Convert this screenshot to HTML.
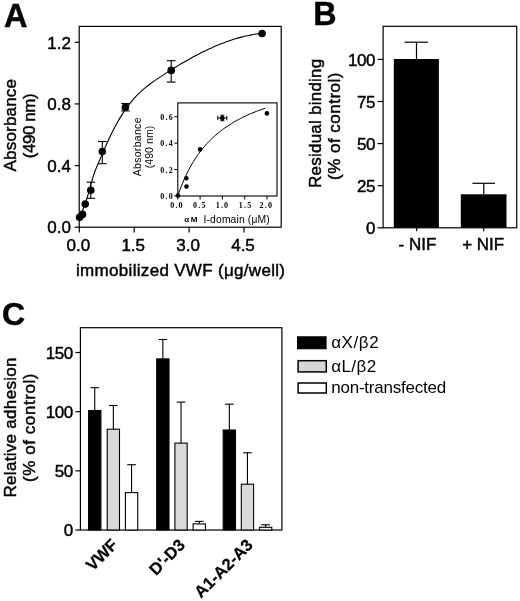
<!DOCTYPE html>
<html><head><meta charset="utf-8"><title>Figure</title>
<style>
html,body{margin:0;padding:0;background:#fff;}
svg{display:block;font-family:"Liberation Sans", Arial, sans-serif;fill:#000;}
text{stroke:#000;stroke-width:0.45px;}
text.thin{stroke-width:0;}
</style></head><body>
<svg width="520" height="601" viewBox="0 0 520 601" style='font-family:"Liberation Sans", Arial, sans-serif'>
<rect x="0" y="0" width="520" height="601" fill="#fff"/>
<text x="4.1" y="26.8" font-size="32.5" text-anchor="start" font-weight="bold" >A</text>
<text x="313.2" y="25.3" font-size="32.3" text-anchor="start" font-weight="bold" >B</text>
<text x="2.0" y="325.4" font-size="32" text-anchor="start" font-weight="bold" >C</text>
<rect x="79.2" y="26.4" width="202.0" height="200.79999999999998" fill="none" stroke="#000" stroke-width="1.2"/>
<line x1="74.7" y1="227.2" x2="79.2" y2="227.2" stroke="#000" stroke-width="1.2" />
<text x="70.9" y="233.4" font-size="17" text-anchor="end" >0.0</text>
<line x1="74.7" y1="165.56" x2="79.2" y2="165.56" stroke="#000" stroke-width="1.2" />
<text x="70.9" y="171.8" font-size="17" text-anchor="end" >0.4</text>
<line x1="74.7" y1="103.91999999999999" x2="79.2" y2="103.91999999999999" stroke="#000" stroke-width="1.2" />
<text x="70.9" y="110.1" font-size="17" text-anchor="end" >0.8</text>
<line x1="74.7" y1="42.28" x2="79.2" y2="42.28" stroke="#000" stroke-width="1.2" />
<text x="70.9" y="48.5" font-size="17" text-anchor="end" >1.2</text>
<line x1="79.3" y1="227.2" x2="79.3" y2="232.5" stroke="#000" stroke-width="1.2" />
<text x="78.3" y="250.5" font-size="17" text-anchor="middle" >0.0</text>
<line x1="134.2" y1="227.2" x2="134.2" y2="232.5" stroke="#000" stroke-width="1.2" />
<text x="133.2" y="250.5" font-size="17" text-anchor="middle" >1.5</text>
<line x1="189.10000000000002" y1="227.2" x2="189.10000000000002" y2="232.5" stroke="#000" stroke-width="1.2" />
<text x="188.1" y="250.5" font-size="17" text-anchor="middle" >3.0</text>
<line x1="244.0" y1="227.2" x2="244.0" y2="232.5" stroke="#000" stroke-width="1.2" />
<text x="243.0" y="250.5" font-size="17" text-anchor="middle" >4.5</text>
<text x="76" y="276.3" font-size="17" text-anchor="start" textLength="209" lengthAdjust="spacing" >immobilized VWF (μg/well)</text>
<text x="15.9" y="171.4" font-size="17" text-anchor="start" transform="rotate(-90 15.9 171.4)" textLength="92.4" lengthAdjust="spacing" >Absorbance</text>
<text x="35.5" y="158.2" font-size="17" text-anchor="start" transform="rotate(-90 35.5 158.2)" textLength="64.8" lengthAdjust="spacing" >(490 nm)</text>
<polyline fill="none" stroke="#000" stroke-width="1.1" points="79.4,217.4 82.4,210.8 85.4,203.0 88.4,193.7 91.4,182.5 94.4,172.7 97.4,165.3 100.4,158.4 103.4,151.4 106.4,144.5 109.4,138.0 112.4,131.8 115.4,126.0 118.4,120.6 121.4,115.6 124.4,111.0 127.4,106.7 130.4,102.8 133.4,99.2 136.4,95.9 139.4,92.9 142.4,90.1 145.4,87.6 148.4,85.2 151.4,83.0 154.4,80.9 157.4,78.9 160.4,76.9 163.4,74.9 166.4,72.9 169.4,71.0 172.4,69.1 175.4,67.3 178.4,65.4 181.4,63.6 184.4,61.9 187.4,60.2 190.4,58.5 193.4,56.8 196.4,55.2 199.4,53.7 202.4,52.1 205.4,50.7 208.4,49.2 211.4,47.9 214.4,46.5 217.4,45.3 220.4,44.0 223.4,42.9 226.4,41.7 229.4,40.7 232.4,39.7 235.4,38.8 238.4,37.9 241.4,37.1 244.4,36.3 247.4,35.7 250.4,35.1 253.4,34.5 256.4,34.0 259.4,33.6 262.0,33.4"/>
<circle cx="79.6" cy="217.3" r="3.8" fill="#000"/>
<circle cx="82.5" cy="214.4" r="3.8" fill="#000"/>
<circle cx="85.2" cy="204.1" r="3.8" fill="#000"/>
<line x1="90.8" y1="182.2" x2="90.8" y2="198.3" stroke="#000" stroke-width="1.1" />
<line x1="86.5" y1="182.2" x2="95.1" y2="182.2" stroke="#000" stroke-width="1.1" />
<line x1="86.5" y1="198.3" x2="95.1" y2="198.3" stroke="#000" stroke-width="1.1" />
<circle cx="90.8" cy="190.2" r="3.8" fill="#000"/>
<line x1="102.3" y1="141.5" x2="102.3" y2="163.7" stroke="#000" stroke-width="1.1" />
<line x1="98.0" y1="141.5" x2="106.6" y2="141.5" stroke="#000" stroke-width="1.1" />
<line x1="98.0" y1="163.7" x2="106.6" y2="163.7" stroke="#000" stroke-width="1.1" />
<circle cx="102.3" cy="151.5" r="3.8" fill="#000"/>
<line x1="125.4" y1="103.5" x2="125.4" y2="110.9" stroke="#000" stroke-width="1.1" />
<line x1="121.10000000000001" y1="103.5" x2="129.70000000000002" y2="103.5" stroke="#000" stroke-width="1.1" />
<line x1="121.10000000000001" y1="110.9" x2="129.70000000000002" y2="110.9" stroke="#000" stroke-width="1.1" />
<circle cx="125.4" cy="107.2" r="3.8" fill="#000"/>
<line x1="171.2" y1="60.7" x2="171.2" y2="82.1" stroke="#000" stroke-width="1.1" />
<line x1="166.89999999999998" y1="60.7" x2="175.5" y2="60.7" stroke="#000" stroke-width="1.1" />
<line x1="166.89999999999998" y1="82.1" x2="175.5" y2="82.1" stroke="#000" stroke-width="1.1" />
<circle cx="171.2" cy="70.4" r="3.8" fill="#000"/>
<circle cx="262.1" cy="33.5" r="3.8" fill="#000"/>
<rect x="177.8" y="102.9" width="99.19999999999999" height="93.1" fill="none" stroke="#000" stroke-width="1.1"/>
<line x1="174.3" y1="195.9" x2="177.8" y2="195.9" stroke="#000" stroke-width="1" />
<text x="160.2" y="198.9" font-size="8" text-anchor="start" font-weight="bold" textLength="12.6" lengthAdjust="spacing" font-family='"Liberation Serif", "Times New Roman", serif' class="thin">0.0</text>
<line x1="174.3" y1="169.5" x2="177.8" y2="169.5" stroke="#000" stroke-width="1" />
<text x="160.2" y="172.5" font-size="8" text-anchor="start" font-weight="bold" textLength="12.6" lengthAdjust="spacing" font-family='"Liberation Serif", "Times New Roman", serif' class="thin">0.2</text>
<line x1="174.3" y1="143.1" x2="177.8" y2="143.1" stroke="#000" stroke-width="1" />
<text x="160.2" y="146.1" font-size="8" text-anchor="start" font-weight="bold" textLength="12.6" lengthAdjust="spacing" font-family='"Liberation Serif", "Times New Roman", serif' class="thin">0.4</text>
<line x1="174.3" y1="116.7" x2="177.8" y2="116.7" stroke="#000" stroke-width="1" />
<text x="160.2" y="119.7" font-size="8" text-anchor="start" font-weight="bold" textLength="12.6" lengthAdjust="spacing" font-family='"Liberation Serif", "Times New Roman", serif' class="thin">0.6</text>
<line x1="177.8" y1="196.0" x2="177.8" y2="199.5" stroke="#000" stroke-width="1" />
<text x="170.2" y="208.0" font-size="8" text-anchor="start" font-weight="bold" textLength="12.4" lengthAdjust="spacing" font-family='"Liberation Serif", "Times New Roman", serif' class="thin">0.0</text>
<line x1="200.10000000000002" y1="196.0" x2="200.10000000000002" y2="199.5" stroke="#000" stroke-width="1" />
<text x="193.0" y="208.0" font-size="8" text-anchor="start" font-weight="bold" textLength="12.4" lengthAdjust="spacing" font-family='"Liberation Serif", "Times New Roman", serif' class="thin">0.5</text>
<line x1="222.4" y1="196.0" x2="222.4" y2="199.5" stroke="#000" stroke-width="1" />
<text x="215.7" y="208.0" font-size="8" text-anchor="start" font-weight="bold" textLength="12.4" lengthAdjust="spacing" font-family='"Liberation Serif", "Times New Roman", serif' class="thin">1.0</text>
<line x1="244.70000000000002" y1="196.0" x2="244.70000000000002" y2="199.5" stroke="#000" stroke-width="1" />
<text x="238.8" y="208.0" font-size="8" text-anchor="start" font-weight="bold" textLength="12.4" lengthAdjust="spacing" font-family='"Liberation Serif", "Times New Roman", serif' class="thin">1.5</text>
<line x1="267.0" y1="196.0" x2="267.0" y2="199.5" stroke="#000" stroke-width="1" />
<text x="259.6" y="208.0" font-size="8" text-anchor="start" font-weight="bold" textLength="12.4" lengthAdjust="spacing" font-family='"Liberation Serif", "Times New Roman", serif' class="thin">2.0</text>
<polyline fill="none" stroke="#000" stroke-width="1" points="177.8,195.9 180.0,189.6 182.3,183.8 184.5,178.5 186.8,173.7 189.0,169.3 191.2,165.2 193.5,161.4 195.7,157.9 198.0,154.6 200.2,151.6 202.5,148.7 204.7,146.1 206.9,143.6 209.2,141.2 211.4,139.0 213.7,136.9 215.9,134.9 218.1,133.0 220.4,131.2 222.6,129.5 224.9,127.9 227.1,126.3 229.4,124.9 231.6,123.5 233.8,122.1 236.1,120.9 238.3,119.6 240.6,118.5 242.8,117.3 245.0,116.3 247.3,115.2 249.5,114.2 251.8,113.3 254.0,112.3 256.3,111.4 258.5,110.6 260.7,109.8 263.0,109.0 265.2,108.2"/>
<circle cx="177.9" cy="195.6" r="2.3" fill="#000"/>
<circle cx="186.3" cy="178.3" r="2.3" fill="#000"/>
<circle cx="186.5" cy="186.6" r="2.3" fill="#000"/>
<circle cx="200.1" cy="149.4" r="2.3" fill="#000"/>
<circle cx="222.3" cy="118.0" r="2.3" fill="#000"/>
<circle cx="266.9" cy="113.4" r="2.3" fill="#000"/>
<line x1="217.8" y1="118" x2="226.8" y2="118" stroke="#000" stroke-width="1" />
<line x1="217.8" y1="115.8" x2="217.8" y2="120.2" stroke="#000" stroke-width="1" />
<line x1="226.8" y1="115.8" x2="226.8" y2="120.2" stroke="#000" stroke-width="1" />
<line x1="222.3" y1="115.3" x2="222.3" y2="120.7" stroke="#000" stroke-width="1" />
<line x1="220.3" y1="115.3" x2="224.3" y2="115.3" stroke="#000" stroke-width="1" />
<line x1="220.3" y1="120.7" x2="224.3" y2="120.7" stroke="#000" stroke-width="1" />
<text x="141.3" y="176.3" font-size="10.5" text-anchor="start" transform="rotate(-90 141.3 176.3)" textLength="58.8" lengthAdjust="spacing" class="thin">Absorbance</text>
<text x="153.3" y="168.3" font-size="10.5" text-anchor="start" transform="rotate(-90 153.3 168.3)" textLength="42.5" lengthAdjust="spacing" class="thin">(490 nm)</text>
<text x="184.3" y="222.4" font-size="8" text-anchor="start" font-weight="bold" textLength="13.2" lengthAdjust="spacing" class="thin">αM</text>
<text x="203.5" y="222.5" font-size="10.3" text-anchor="start" textLength="66.2" lengthAdjust="spacing" class="thin">I-domain (μM)</text>
<rect x="383.1" y="26.3" width="133.60000000000002" height="201.5" fill="none" stroke="#000" stroke-width="1.2"/>
<line x1="377.6" y1="227.8" x2="383.1" y2="227.8" stroke="#000" stroke-width="1.2" />
<text x="374.90000000000003" y="234.2" font-size="17" text-anchor="end" letter-spacing="-0.5">0</text>
<line x1="377.6" y1="185.70000000000002" x2="383.1" y2="185.70000000000002" stroke="#000" stroke-width="1.2" />
<text x="374.90000000000003" y="192.1" font-size="17" text-anchor="end" letter-spacing="-0.5">25</text>
<line x1="377.6" y1="143.60000000000002" x2="383.1" y2="143.60000000000002" stroke="#000" stroke-width="1.2" />
<text x="374.90000000000003" y="150.0" font-size="17" text-anchor="end" letter-spacing="-0.5">50</text>
<line x1="377.6" y1="101.50000000000001" x2="383.1" y2="101.50000000000001" stroke="#000" stroke-width="1.2" />
<text x="374.90000000000003" y="107.9" font-size="17" text-anchor="end" letter-spacing="-0.5">75</text>
<line x1="377.6" y1="59.400000000000006" x2="383.1" y2="59.400000000000006" stroke="#000" stroke-width="1.2" />
<text x="374.90000000000003" y="65.8" font-size="17" text-anchor="end" letter-spacing="-0.5">100</text>
<rect x="393.8" y="59.0" width="45.1" height="168.8" fill="#000"/>
<line x1="416.5" y1="42.2" x2="416.5" y2="59.2" stroke="#000" stroke-width="1.2" />
<line x1="404.6" y1="42.2" x2="428" y2="42.2" stroke="#000" stroke-width="1.2" />
<rect x="460.8" y="194.3" width="45.7" height="33.5" fill="#000"/>
<line x1="483.8" y1="183.3" x2="483.8" y2="194.3" stroke="#000" stroke-width="1.2" />
<line x1="472.4" y1="183.3" x2="495.0" y2="183.3" stroke="#000" stroke-width="1.2" />
<text x="417.5" y="249.5" font-size="17" text-anchor="middle" >- NIF</text>
<line x1="416.7" y1="227.8" x2="416.7" y2="231.3" stroke="#000" stroke-width="1.2" />
<line x1="483.7" y1="227.8" x2="483.7" y2="231.3" stroke="#000" stroke-width="1.2" />
<text x="483.2" y="249.5" font-size="17" text-anchor="middle" >+ NIF</text>
<text x="320.8" y="188" font-size="17" text-anchor="start" transform="rotate(-90 320.8 188)" textLength="129.3" lengthAdjust="spacing" >Residual binding</text>
<text x="340.2" y="180" font-size="17" text-anchor="start" transform="rotate(-90 340.2 180)" textLength="107.5" lengthAdjust="spacing" >(% of control)</text>
<rect x="80.4" y="327.7" width="201.49999999999997" height="202.3" fill="none" stroke="#000" stroke-width="1.2"/>
<line x1="75.4" y1="530.0" x2="80.4" y2="530.0" stroke="#000" stroke-width="1.2" />
<text x="72.60000000000001" y="536.4" font-size="17" text-anchor="end" letter-spacing="-0.5">0</text>
<line x1="75.4" y1="470.835" x2="80.4" y2="470.835" stroke="#000" stroke-width="1.2" />
<text x="72.60000000000001" y="477.2" font-size="17" text-anchor="end" letter-spacing="-0.5">50</text>
<line x1="75.4" y1="411.67" x2="80.4" y2="411.67" stroke="#000" stroke-width="1.2" />
<text x="72.60000000000001" y="418.1" font-size="17" text-anchor="end" letter-spacing="-0.5">100</text>
<line x1="75.4" y1="352.505" x2="80.4" y2="352.505" stroke="#000" stroke-width="1.2" />
<text x="72.60000000000001" y="358.9" font-size="17" text-anchor="end" letter-spacing="-0.5">150</text>
<line x1="94.75" y1="387.7" x2="94.75" y2="410.5" stroke="#000" stroke-width="1.1" />
<line x1="90.45" y1="387.7" x2="99.05" y2="387.7" stroke="#000" stroke-width="1.1" />
<rect x="88.6" y="410.5" width="12.3" height="119.5" fill="#000" stroke="#000" stroke-width="1.1"/>
<line x1="113.35000000000001" y1="405.5" x2="113.35000000000001" y2="429.2" stroke="#000" stroke-width="1.1" />
<line x1="109.05000000000001" y1="405.5" x2="117.65" y2="405.5" stroke="#000" stroke-width="1.1" />
<rect x="107.2" y="429.2" width="12.3" height="100.80000000000001" fill="#d9d9d9" stroke="#000" stroke-width="1.1"/>
<line x1="131.55" y1="464.7" x2="131.55" y2="492.6" stroke="#000" stroke-width="1.1" />
<line x1="127.25000000000001" y1="464.7" x2="135.85000000000002" y2="464.7" stroke="#000" stroke-width="1.1" />
<rect x="125.4" y="492.6" width="12.3" height="37.39999999999998" fill="#fff" stroke="#000" stroke-width="1.1"/>
<line x1="162.85" y1="339.5" x2="162.85" y2="358.9" stroke="#000" stroke-width="1.1" />
<line x1="158.54999999999998" y1="339.5" x2="167.15" y2="339.5" stroke="#000" stroke-width="1.1" />
<rect x="156.7" y="358.9" width="12.3" height="171.10000000000002" fill="#000" stroke="#000" stroke-width="1.1"/>
<line x1="181.05" y1="402.1" x2="181.05" y2="443.1" stroke="#000" stroke-width="1.1" />
<line x1="176.75" y1="402.1" x2="185.35000000000002" y2="402.1" stroke="#000" stroke-width="1.1" />
<rect x="174.9" y="443.1" width="12.3" height="86.89999999999998" fill="#d9d9d9" stroke="#000" stroke-width="1.1"/>
<line x1="199.25" y1="521.4" x2="199.25" y2="523.9" stroke="#000" stroke-width="1.1" />
<line x1="194.95" y1="521.4" x2="203.55" y2="521.4" stroke="#000" stroke-width="1.1" />
<rect x="193.1" y="523.9" width="12.3" height="6.100000000000023" fill="#fff" stroke="#000" stroke-width="1.1"/>
<line x1="229.35" y1="404.2" x2="229.35" y2="430.0" stroke="#000" stroke-width="1.1" />
<line x1="225.04999999999998" y1="404.2" x2="233.65" y2="404.2" stroke="#000" stroke-width="1.1" />
<rect x="223.2" y="430.0" width="12.3" height="100.0" fill="#000" stroke="#000" stroke-width="1.1"/>
<line x1="247.45000000000002" y1="452.8" x2="247.45000000000002" y2="484.2" stroke="#000" stroke-width="1.1" />
<line x1="243.15" y1="452.8" x2="251.75000000000003" y2="452.8" stroke="#000" stroke-width="1.1" />
<rect x="241.3" y="484.2" width="12.3" height="45.80000000000001" fill="#d9d9d9" stroke="#000" stroke-width="1.1"/>
<line x1="265.65" y1="524.8" x2="265.65" y2="527.3" stroke="#000" stroke-width="1.1" />
<line x1="261.34999999999997" y1="524.8" x2="269.95" y2="524.8" stroke="#000" stroke-width="1.1" />
<rect x="259.5" y="527.3" width="12.3" height="2.7000000000000455" fill="#fff" stroke="#000" stroke-width="1.1"/>
<text x="118.8" y="545.8" font-size="16.6" style="stroke-width:0.2px" font-weight="bold" text-anchor="end" transform="rotate(-45 118.8 545.8)">VWF</text>
<text x="186.1" y="546" font-size="16.6" style="stroke-width:0.2px" font-weight="bold" text-anchor="end" transform="rotate(-45 186.1 546)">D'-D3</text>
<text x="253.9" y="546" font-size="16.6" style="stroke-width:0.2px" font-weight="bold" text-anchor="end" transform="rotate(-45 253.9 546)">A1-A2-A3</text>
<text x="15.5" y="497.5" font-size="17" text-anchor="start" transform="rotate(-90 15.5 497.5)" textLength="140" lengthAdjust="spacing" >Relative adhesion</text>
<text x="35.3" y="482" font-size="17" text-anchor="start" transform="rotate(-90 35.3 482)" textLength="108.5" lengthAdjust="spacing" >(% of control)</text>
<rect x="297.5" y="336.8" width="28.6" height="12" fill="#000" stroke="#000" stroke-width="1"/>
<rect x="298.1" y="360.7" width="28.2" height="11.2" fill="#d6d6d6" stroke="#000" stroke-width="1.5"/>
<rect x="298.1" y="383.0" width="28.2" height="10.0" fill="#fff" stroke="#000" stroke-width="1.5"/>
<text x="331.2" y="348.2" font-size="17" text-anchor="start" textLength="47.5" lengthAdjust="spacing" class="thin">αX/β2</text>
<text x="331.2" y="372.2" font-size="17" text-anchor="start" textLength="45" lengthAdjust="spacing" class="thin">αL/β2</text>
<text x="331.2" y="392.8" font-size="17" text-anchor="start" textLength="115" lengthAdjust="spacing" class="thin">non-transfected</text>
</svg>
</body></html>
